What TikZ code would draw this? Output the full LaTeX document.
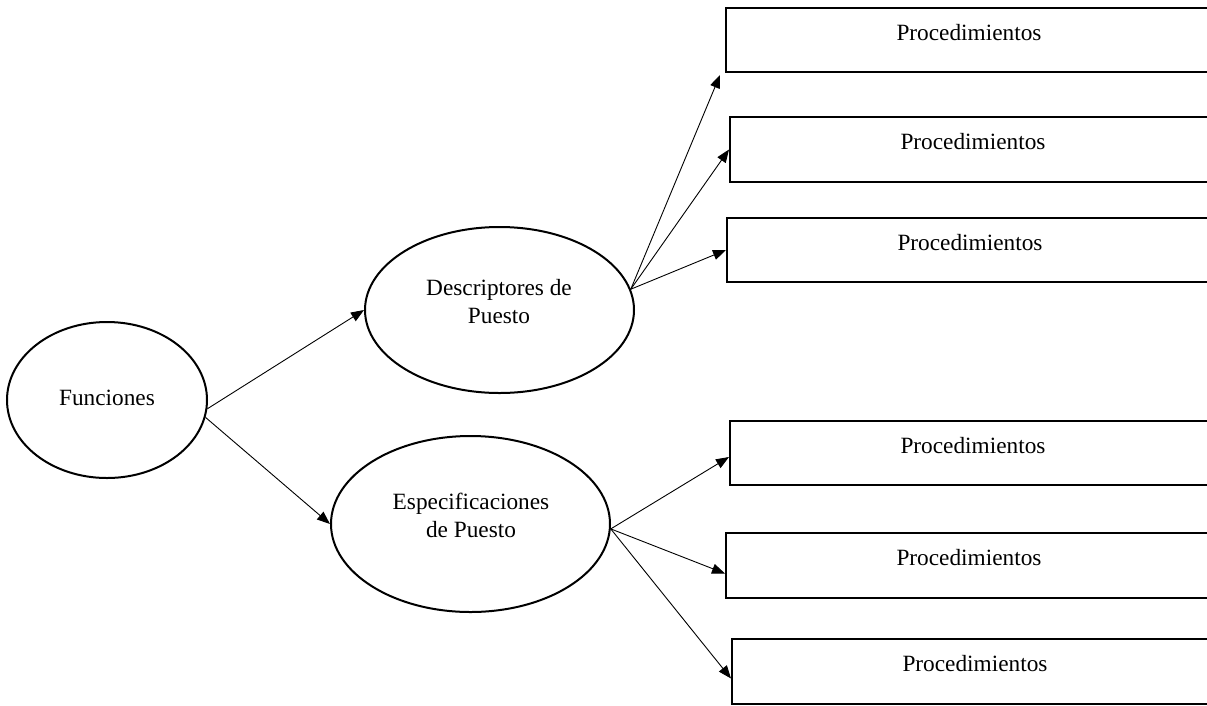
\documentclass[tikz,border=0pt]{standalone}
\usepackage{fontspec}
\setmainfont{Liberation Serif}
\usetikzlibrary{arrows.meta,shapes.geometric}
\begin{document}
\begin{tikzpicture}[x=1pt,y=-1pt,
  oval/.style={draw,line width=2pt,ellipse,inner sep=0pt},
  procbox/.style={draw,line width=2pt,rectangle,anchor=north west,inner sep=0pt,minimum width=486pt},
  conn/.style={line width=0.9pt,-{Triangle[length=13pt,width=10pt]}},
  lbl/.style={font=\fontsize{23.3}{28}\selectfont,align=center,inner sep=0pt}
]
\useasboundingbox (0,0) rectangle (1207,705);
\clip (0,0) rectangle (1207,705);

% ovals
\node[oval,minimum width=200pt,minimum height=156pt] (f) at (107,400) {};
\node[oval,minimum width=269pt,minimum height=166pt] (d) at (499.5,310) {};
\node[oval,minimum width=279pt,minimum height=176pt] (e) at (470.5,524) {};
\node[lbl] (ft) at (107,398) {Funciones};
\node[lbl] (dt) at (499,302) {Descriptores de\\Puesto};
\node[lbl] (et) at (471,515) {Especificaciones\\de Puesto};

% procedure boxes
\node[procbox,minimum height=64pt] (b1) at (725,7) {};
\node[procbox,minimum height=65pt] (b2) at (729,116) {};
\node[procbox,minimum height=64pt] (b3) at (726,217) {};
\node[procbox,minimum height=64pt] (b4) at (729,420) {};
\node[procbox,minimum height=65pt] (b5) at (725,532) {};
\node[procbox,minimum height=65pt] (b6) at (731,638) {};
\foreach \b in {b1,b2,b3,b4,b5,b6}
  \node[lbl] (\b t) at ([yshift=-26pt]\b.north) {Procedimientos};

% connectors
\draw[conn] (f.-5) -- (d.west);
\draw[conn] (f.-10) -- (e.west);
\draw[conn] (d.9) -- ([shift={(-5pt,-2pt)}]b1.south west);
\draw[conn] (d.9) -- (b2.west);
\draw[conn] (d.9) -- (b3.west);
\draw[conn] (e.-2) -- ([yshift=-4pt]b4.west);
\draw[conn] (e.-2) -- ([yshift=-8pt]b5.west);
\draw[conn] (e.-2) -- ([yshift=-7pt]b6.west);
\end{tikzpicture}
\end{document}
